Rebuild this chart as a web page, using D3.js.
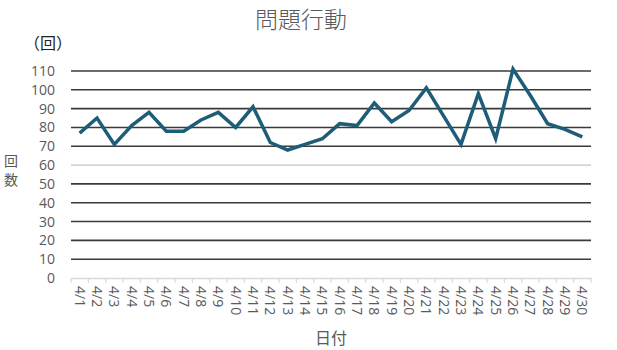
<!DOCTYPE html>
<html>
<head>
<meta charset="utf-8">
<script src="https://cdn.jsdelivr.net/npm/d3@7"></script>
<style>
  body { margin: 0; background: #fff; }
  text { font-family: "Open Sans", "Noto Sans CJK JP", sans-serif; }
</style>
</head>
<body>
<div class="container"></div>
<script>
// data
const dates = ['4/1','4/2','4/3','4/4','4/5','4/6','4/7','4/8','4/9','4/10',
  '4/11','4/12','4/13','4/14','4/15','4/16','4/17','4/18','4/19','4/20',
  '4/21','4/22','4/23','4/24','4/25','4/26','4/27','4/28','4/29','4/30'];
const counts = [77,85,71,81,88,78,78,84,88,80,
  91,72,68,71,74,82,81,93,83,89,
  101,86,71,98,74,111,97,82,79,75];
const yTicks = [0,10,20,30,40,50,60,70,80,90,100,110];

const chartTitle = '問題行動';
const yUnit = '（回）';
const yLabel = ['回', '数'];
const xLabel = '日付';

let outerWidth = 617, outerHeight = 350;
let margin = {top: 71, right: 26, bottom: 72, left: 71};
let width = outerWidth - margin.left - margin.right,
    height = outerHeight - margin.top - margin.bottom;

let svg = d3.select('.container').append('svg')
  .attr('width', outerWidth)
  .attr('height', outerHeight);

let group = svg.append('g')
  .attr('transform', `translate(${margin.left},${margin.top})`);

let xScale = d3.scaleBand()
  .domain(dates)
  .range([0, width]);

let yScale = d3.scaleLinear()
  .domain([0, 110])
  .range([height, 0]);

// gridlines (60 is drawn light)
group.append('g')
  .selectAll('line')
  .data(yTicks.filter(d => d > 0))
  .enter()
  .append('line')
  .attr('x1', 0)
  .attr('x2', width)
  .attr('y1', d => yScale(d))
  .attr('y2', d => yScale(d))
  .attr('stroke', d => d === 60 ? '#d4d4d4' : '#3a3a3a')
  .attr('stroke-width', 1.6);

// y axis labels
let yAxis = d3.axisLeft(yScale)
  .tickValues(yTicks)
  .tickSize(0)
  .tickPadding(16);

group.append('g')
  .attr('class', 'axis y-axis')
  .call(yAxis)
  .call(g => g.select('.domain').remove())
  .selectAll('text')
  .attr('fill', '#595959')
  .style('font-size', '14px');

// x axis with tick marks between categories
let xAxis = d3.axisBottom(xScale).tickSize(0).tickPadding(8);

let xg = group.append('g')
  .attr('class', 'axis x-axis')
  .attr('transform', `translate(0,${height})`)
  .call(xAxis);

xg.select('.domain').attr('stroke', '#d9d9d9').attr('stroke-width', 1.5);

xg.selectAll('.tick text')
  .attr('fill', '#595959')
  .style('font-size', '14px')
  .style('text-anchor', 'start')
  .attr('transform', 'rotate(90)')
  .attr('x', 8)
  .attr('y', 0)
  .attr('dy', '0.35em');

xg.selectAll('.sep')
  .data(d3.range(dates.length + 1))
  .enter()
  .append('line')
  .attr('class', 'sep')
  .attr('x1', i => i * xScale.step())
  .attr('x2', i => i * xScale.step())
  .attr('y1', 0)
  .attr('y2', 5)
  .attr('stroke', '#d9d9d9')
  .attr('stroke-width', 1.2);

// the series line
let line = d3.line()
  .x((d, i) => xScale(dates[i]) + xScale.bandwidth() / 2)
  .y(d => yScale(d));

group.append('path')
  .datum(counts)
  .attr('fill', 'none')
  .attr('stroke', '#1d5d78')
  .attr('stroke-width', 3.5)
  .attr('stroke-linejoin', 'miter')
  .attr('d', line);

// texts
svg.append('text')
  .attr('x', 301)
  .attr('y', 28)
  .style('text-anchor', 'middle')
  .style('font-size', '23px')
  .style('font-weight', 300)
  .attr('fill', '#595959')
  .text(chartTitle);

svg.append('text')
  .attr('x', 24)
  .attr('y', 49)
  .style('font-size', '16px')
  .style('font-family', '"Noto Sans CJK JP"')
  .attr('fill', '#222')
  .text(yUnit);

svg.selectAll('.ylab')
  .data(yLabel)
  .enter()
  .append('text')
  .attr('class', 'ylab')
  .attr('x', 11)
  .attr('y', (d, i) => 166 + i * 19)
  .style('text-anchor', 'middle')
  .style('font-size', '14px')
  .attr('fill', '#595959')
  .text(d => d);

svg.append('text')
  .attr('x', margin.left + width / 2)
  .attr('y', 344)
  .style('text-anchor', 'middle')
  .style('font-size', '16px')
  .attr('fill', '#595959')
  .text(xLabel);
</script>
</body>
</html>
